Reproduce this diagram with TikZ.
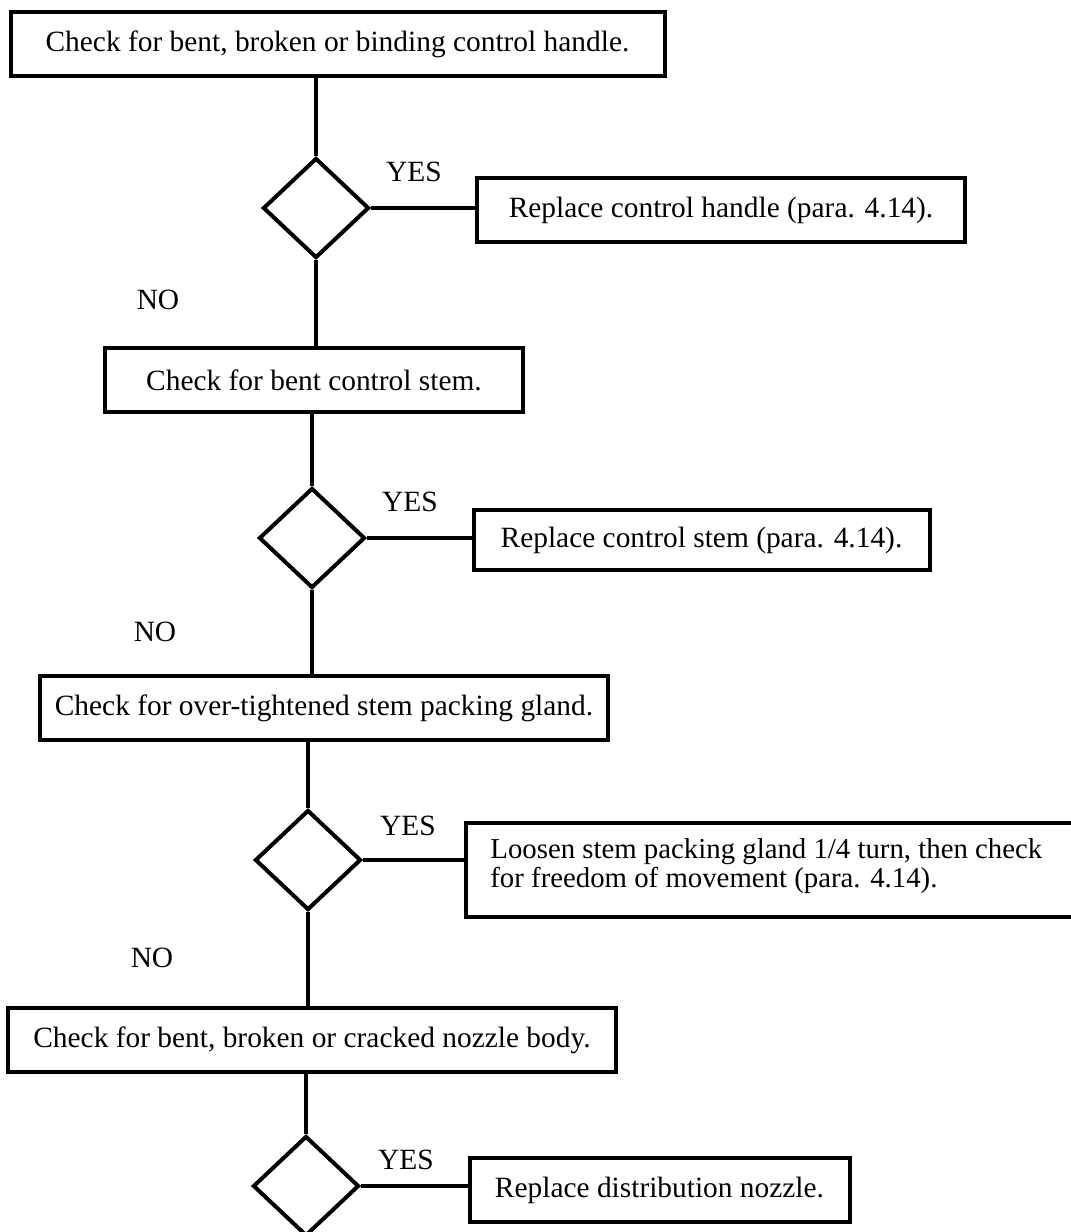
\documentclass[tikz,border=0pt]{standalone}
\usepackage{fontspec}
\setmainfont{Liberation Serif}
\usetikzlibrary{shapes.geometric}

\begin{document}
\begin{tikzpicture}[x=0.5pt, y=-0.5pt,
    box/.style={draw, line width=2pt, rectangle, inner sep=0pt,
      font=\fontsize{14.7}{17}\selectfont},
    decision/.style={draw, line width=2pt, diamond, inner sep=0pt,
      minimum width=53pt, minimum height=50pt},
    link/.style={line width=2pt},
    answer/.style={font=\fontsize{14.7}{17}\selectfont}]

    % 画面の大きさ
    \clip (0,0) rectangle (1071,1232);

    % 1段目: 操作ハンドル
    \node[box, minimum width=327pt, minimum height=32pt] (b1) at (337.5,44)
      {Check for bent, broken or binding control handle.};
    \node[decision] (d1) at (316,208) {};
    \node[box, minimum width=244pt, minimum height=32pt] (r1) at (721,210)
      {Replace control handle (para. 4.14).};
    \node[answer] (yes1) at (414,172) {YES};
    \node[answer] (no1) at (158,300) {NO};

    % 2段目: ステム
    \node[box, minimum width=209pt, minimum height=32pt] (b2) at (314,380)
      {Check for bent control stem.};
    \node[decision] (d2) at (312,538) {};
    \node[box, minimum width=228pt, minimum height=30pt] (r2) at (701.5,540)
      {Replace control stem (para. 4.14).};
    \node[answer] (yes2) at (410,502) {YES};
    \node[answer] (no2) at (155,632) {NO};

    % 3段目: パッキンググランド
    \node[box, minimum width=284pt, minimum height=32pt] (b3) at (324,708)
      {Check for over-tightened stem packing gland.};
    \node[decision] (d3) at (308,860) {};
    \node[box, minimum width=312pt, minimum height=47pt] (r3) at (778,869.5) {};
    \node[answer, align=left, anchor=west, inner sep=0pt,
      font=\fontsize{14.4}{12.5}\selectfont] (t3) at (490,866)
      {Loosen stem packing gland 1/4 turn, then check\\
       for freedom of movement (para. 4.14).};
    \node[answer] (yes3) at (408,826) {YES};
    \node[answer] (no3) at (152,958) {NO};

    % 4段目: ノズル本体
    \node[box, minimum width=304pt, minimum height=32pt] (b4) at (312,1040)
      {Check for bent, broken or cracked nozzle body.};
    \node[decision] (d4) at (306,1186) {};
    \node[box, minimum width=190pt, minimum height=32pt] (r4) at (659.5,1190)
      {Replace distribution nozzle.};
    \node[answer] (yes4) at (406,1160) {YES};

    % 縦の線
    \draw[link] (d1.north) -- (d1.north |- b1.south);
    \draw[link] (d1.south) -- (d1.south |- b2.north);
    \draw[link] (d2.north) -- (d2.north |- b2.south);
    \draw[link] (d2.south) -- (d2.south |- b3.north);
    \draw[link] (d3.north) -- (d3.north |- b3.south);
    \draw[link] (d3.south) -- (d3.south |- b4.north);
    \draw[link] (d4.north) -- (d4.north |- b4.south);

    % YES の線
    \draw[link] (d1.east) -- (d1.east -| r1.west);
    \draw[link] (d2.east) -- (d2.east -| r2.west);
    \draw[link] (d3.east) -- (d3.east -| r3.west);
    \draw[link] (d4.east) -- (d4.east -| r4.west);

\end{tikzpicture}
\end{document}
